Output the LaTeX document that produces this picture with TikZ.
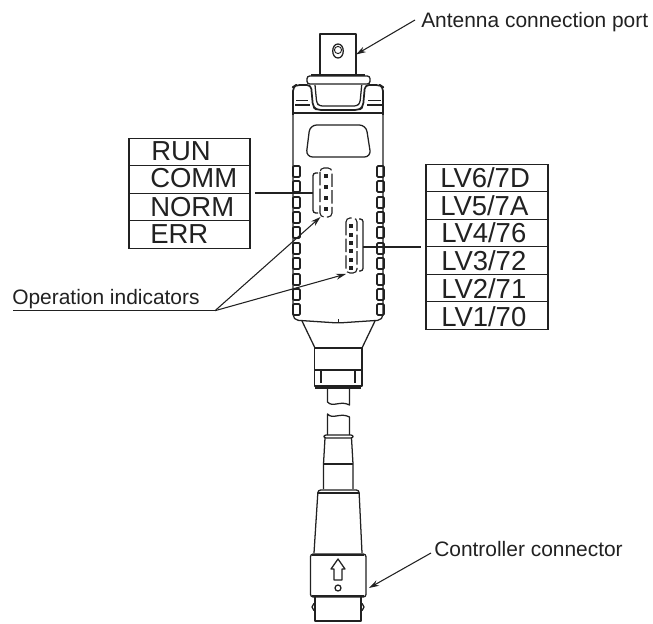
\documentclass[tikz,border=0pt]{standalone}
\usepackage{fontspec}
\setmainfont{Liberation Sans}
\usetikzlibrary{arrows.meta}
\definecolor{ink}{gray}{0.13}
\tikzset{
  x=0.75pt,y=-0.75pt,
  part/.style={draw=ink,line width=0.95pt,line join=round},
  heavy part/.style={draw=ink,line width=1.5pt},
  cell/.style={draw=ink,line width=0.8pt,minimum height=20.6pt,inner sep=0pt,outer sep=0pt},
  leftcell/.style={cell,minimum width=90.75pt},
  rightcell/.style={cell,minimum width=91.5pt},
  celltext/.style={anchor=base west,inner sep=0pt,text=ink,font=\fontsize{20.6}{20.6}\selectfont},
  note/.style={anchor=base west,inner sep=0pt,text=ink,font=\fontsize{15.7}{18}\selectfont},
  leader/.style={draw=ink,line width=0.8pt},
  pointer/.style={leader,-{Stealth[length=7.5pt,width=4.5pt]}},
  wire/.style={draw=ink,line width=1.6pt},
  led/.style={fill=ink,draw=none,minimum size=3pt,inner sep=0pt},
  tick/.style={draw=ink,line width=1.35pt,rounded corners=0.8pt},
  ledbox/.style={draw=ink,line width=0.85pt,dash pattern=on 10pt off 2.5pt,rounded corners=3pt},
}
\begin{document}
\begin{tikzpicture}
\useasboundingbox (0,0) rectangle (653,624);

% antenna port
\draw[part] (320,74) -- (320,34) -- (356,34) -- (356,74);
\draw[part] (338,44) .. controls (345,44) and (345,58) .. (338,58) .. controls (331,58) and (331,44) .. (338,44) -- cycle;
\draw[part,line width=0.7pt] (338,50) circle (3.6);
\draw[heavy part] (311,75) -- (365,75);
\draw[part,rounded corners=2pt] (307,84) -- (307,76) -- (370,76) -- (370,84) -- cycle;

% shoulders and body top
\draw[part,rounded corners=3pt,line width=1.3pt] (293,115) -- (293,87) -- (296,85) -- (311,85) -- (313,107) -- (317,110) -- (359,110) -- (363,107) -- (365,85) -- (380,85) -- (383,87) -- (383,115);
\draw[part,rounded corners=2pt] (315,85) -- (316.7,103) -- (319.5,106) -- (357,106) -- (360,103) -- (361.7,85);
\draw[part,line width=0.7pt] (296,100) -- (308,100);
\draw[part] (295,105) -- (310,105);
\draw[part,line width=0.7pt] (368,100) -- (381,100);
\draw[part] (367,105) -- (382,105);
\draw[part] (293,113) -- (383,113);

% body
\draw[part,rounded corners=4pt] (293,113) -- (293,320) -- (338,323) -- (383,320) -- (383,113);
\draw[part,line width=0.7pt] (338,319) -- (338,323);
\draw[part,rounded corners=5pt] (310,125) -- (366,125) -- (371,157) -- (306,157) -- cycle;

% side ribs
\foreach \yy in {166,181,197,212,227,243,258,274,289,304}{
  \draw[tick] (293,\yy) rectangle (300,\yy+11);
  \draw[tick] (377,\yy) rectangle (384,\yy+11);
}

% first indicator group
\draw[ledbox] (320,168) rectangle (332,217);
\node[led] (l1) at (325.5,176) {};
\node[led] (l2) at (325.5,187) {};
\node[led] (l3) at (325.5,198) {};
\node[led] (l4) at (325.5,209) {};
\draw[part,rounded corners=2pt] (318,173) -- (313,173) -- (313,213) -- (318,213);
\coordinate (brL) at (313,193);

% second indicator group
\draw[ledbox] (346,218) rectangle (357,273);
\node[led] (r1) at (351,226) {};
\node[led] (r2) at (351,234.5) {};
\node[led] (r3) at (351,243) {};
\node[led] (r4) at (351,251) {};
\node[led] (r5) at (351,259.5) {};
\node[led] (r6) at (351,268) {};
\draw[part,rounded corners=2pt] (359,219) -- (363,219) -- (363,271) -- (359,271);
\coordinate (brR) at (363,247);

% neck
\draw[part] (302,321) -- (315,348);
\draw[part] (375,321) -- (362,348);
\draw[part] (314.5,348) rectangle (362,386);
\draw[part] (314.5,370) -- (362,370);
\draw[heavy part] (315,387.5) -- (361,387.5);
\draw[part,line width=1.3pt] (321,371) -- (321,383);
\draw[part,line width=1.3pt] (355,371) -- (355,383);

% cable
\draw[part] (327.5,388) -- (327.5,402) .. controls (333,408) and (340,400) .. (349.5,405) -- (349.5,388);
\draw[part] (327.5,435) -- (327.5,414) .. controls (333,420) and (340,412) .. (349.5,417) -- (349.5,435);
\draw[part,rounded corners=1.5pt] (324,435) rectangle (353,438);

% connector
\draw[part] (325,438) -- (323.5,464) -- (323.5,489);
\draw[part] (351.5,438) -- (353,464) -- (353,489);
\draw[part] (323.5,464) -- (353,464);
\draw[part,rounded corners=2pt] (314,553) -- (318,490) -- (359,490) -- (362,553);
\draw[part,line width=1.2pt] (318,493) -- (359,493);
\draw[part,rounded corners=2pt] (310.5,554) rectangle (366,597);
\draw[heavy part] (312,555) -- (364,555);
\draw[heavy part] (312,596) -- (364,596);
\draw[part] (315,597) -- (315,621) -- (361,621) -- (361,597);
\draw[part,rounded corners=1.5pt] (315,603) -- (312,605) -- (312,609) -- (315,611);
\draw[part,rounded corners=1.5pt] (361,603) -- (364,605) -- (364,609) -- (361,611);
\draw[part] (338,559) -- (345,569) -- (342,569) -- (342,580) -- (334,580) -- (334,569) -- (331,569) -- cycle;
\draw[part] (338,588) circle (3);

% left table
\node[leftcell] (run) at (189.5,152) {};
\node[leftcell] (comm) at (189.5,179.5) {};
\node[leftcell] (norm) at (189.5,207) {};
\node[leftcell] (err) at (189.5,234.5) {};
\node[celltext] at (151,160.7) {RUN};
\node[celltext] at (150,188) {COMM};
\node[celltext] at (150,216.7) {NORM};
\node[celltext] at (150,243.2) {ERR};
\coordinate (tabL) at (255,193);
\draw[wire] (tabL) -- (brL);

% right table
\node[rightcell] (lv6) at (487,178) {};
\node[rightcell] (lv5) at (487,205.5) {};
\node[rightcell] (lv4) at (487,233) {};
\node[rightcell] (lv3) at (487,260.5) {};
\node[rightcell] (lv2) at (487,288) {};
\node[rightcell] (lv1) at (487,315.5) {};
\node[celltext] at (440,187.5) {LV6/7D};
\node[celltext] at (440,215) {LV5/7A};
\node[celltext] at (441,242.7) {LV4/76};
\node[celltext] at (441,270.7) {LV3/72};
\node[celltext] at (441,298.2) {LV2/71};
\node[celltext] at (441,326.2) {LV1/70};
\coordinate (tabR) at (421,247);
\draw[wire] (brR) -- (tabR);

% labels and leaders
\node[note] (ant) at (421,27.5) {Antenna connection port};
\coordinate (antA) at (415,20);
\coordinate (antB) at (356,54.5);
\draw[pointer] (antA) -- (antB);

\node[note] (op) at (12,304) {Operation indicators};
\coordinate (opS) at (13,310.7);
\coordinate (opE) at (215,310.7);
\coordinate (opT1) at (320.5,217);
\coordinate (opT2) at (346,274);
\draw[leader] (opS) -- (opE);
\draw[pointer] (opE) -- (opT1);
\draw[pointer] (opE) -- (opT2);

\node[note] (ctl) at (434,556) {Controller connector};
\coordinate (ctlA) at (431,553);
\coordinate (ctlB) at (369,588);
\draw[pointer] (ctlA) -- (ctlB);
\end{tikzpicture}
\end{document}
